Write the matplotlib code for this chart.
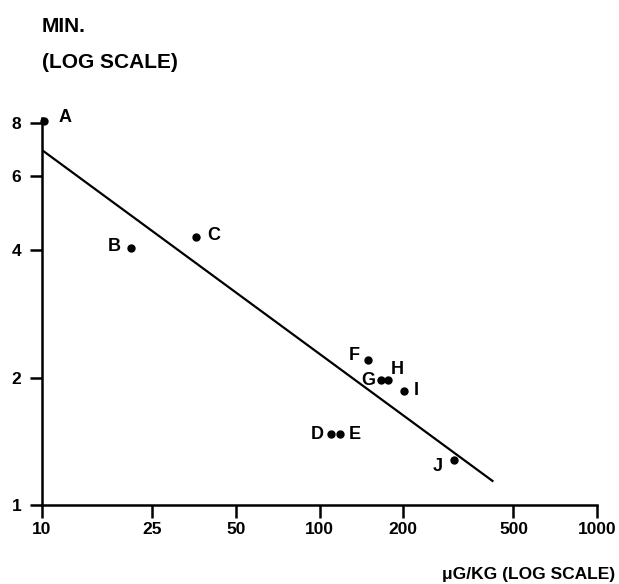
import matplotlib
matplotlib.use('Agg')
import matplotlib.pyplot as plt
from matplotlib.ticker import FixedLocator, NullLocator

plt.rcParams['font.family'] = ['Liberation Sans', 'DejaVu Sans']
plt.rcParams['font.weight'] = 'bold'

# 数据点 (剂量 μg/kg, 时间 min)
labels = ['A', 'B', 'C', 'D', 'E', 'F', 'G', 'H', 'I', 'J']
dose = [10.2, 21, 36, 110, 119, 150, 166, 176, 202, 305]
minutes = [8.1, 4.05, 4.3, 1.47, 1.47, 2.2, 1.97, 1.97, 1.86, 1.28]

# 回归线端点
line_x = [10, 420]
line_y = [6.9, 1.14]

x_ticks = [10, 25, 50, 100, 200, 500, 1000]
y_ticks = [1, 2, 4, 6, 8]

# 标签偏移 (点), 对齐方式
offsets = {
    'A': ((10, 2), 'left'), 'B': ((-8, 1), 'right'), 'C': ((8, 1), 'left'),
    'D': ((-5, 0), 'right'), 'E': ((6, 0), 'left'), 'F': ((-6, 3), 'right'),
    'G': ((-4, 0), 'right'), 'H': ((2, 8), 'left'), 'I': ((7, 0), 'left'),
    'J': ((-8, -5), 'right'),
}

fig = plt.figure(figsize=(6.19, 5.84), dpi=100, facecolor='white')
ax = fig.add_axes([0.0679, 0.1353, 0.8966, 0.662])

ax.set_xscale('log')
ax.set_yscale('log')
ax.set_xlim(10, 1000)
ax.set_ylim(1, 8.2)

ax.plot(line_x, line_y, color='black', linewidth=1.6)
ax.plot(dose, minutes, 'o', color='black', markersize=5, clip_on=False)

for lab, x, y in zip(labels, dose, minutes):
    off, ha = offsets[lab]
    ax.annotate(lab, (x, y), xytext=off, textcoords='offset points',
                ha=ha, va='center', fontsize=13, fontweight='bold')

ax.xaxis.set_major_locator(FixedLocator(x_ticks))
ax.xaxis.set_minor_locator(NullLocator())
ax.set_xticklabels([str(t) for t in x_ticks])
ax.yaxis.set_major_locator(FixedLocator(y_ticks))
ax.yaxis.set_minor_locator(NullLocator())
ax.set_yticklabels([str(t) for t in y_ticks])

for s in ['top', 'right']:
    ax.spines[s].set_visible(False)
for s in ['left', 'bottom']:
    ax.spines[s].set_linewidth(1.8)

ax.tick_params(axis='both', direction='out', length=9, width=1.8,
               labelsize=12.5)
ax.tick_params(axis='y', pad=6)
ax.tick_params(axis='x', pad=3)
for t in ax.get_xticklabels() + ax.get_yticklabels():
    t.set_fontweight('bold')

fig.text(42 / 619, 1 - 27 / 584, 'MIN.', fontsize=15, fontweight='bold',
         ha='left', va='center')
fig.text(42 / 619, 1 - 62 / 584, '(LOG SCALE)', fontsize=15, fontweight='bold',
         ha='left', va='center')
fig.text(615 / 619, 1 - 575 / 584, 'μG/KG (LOG SCALE)', fontsize=12.5,
         fontweight='bold', ha='right', va='center')

fig.savefig('out.png', dpi=100, facecolor='white')
